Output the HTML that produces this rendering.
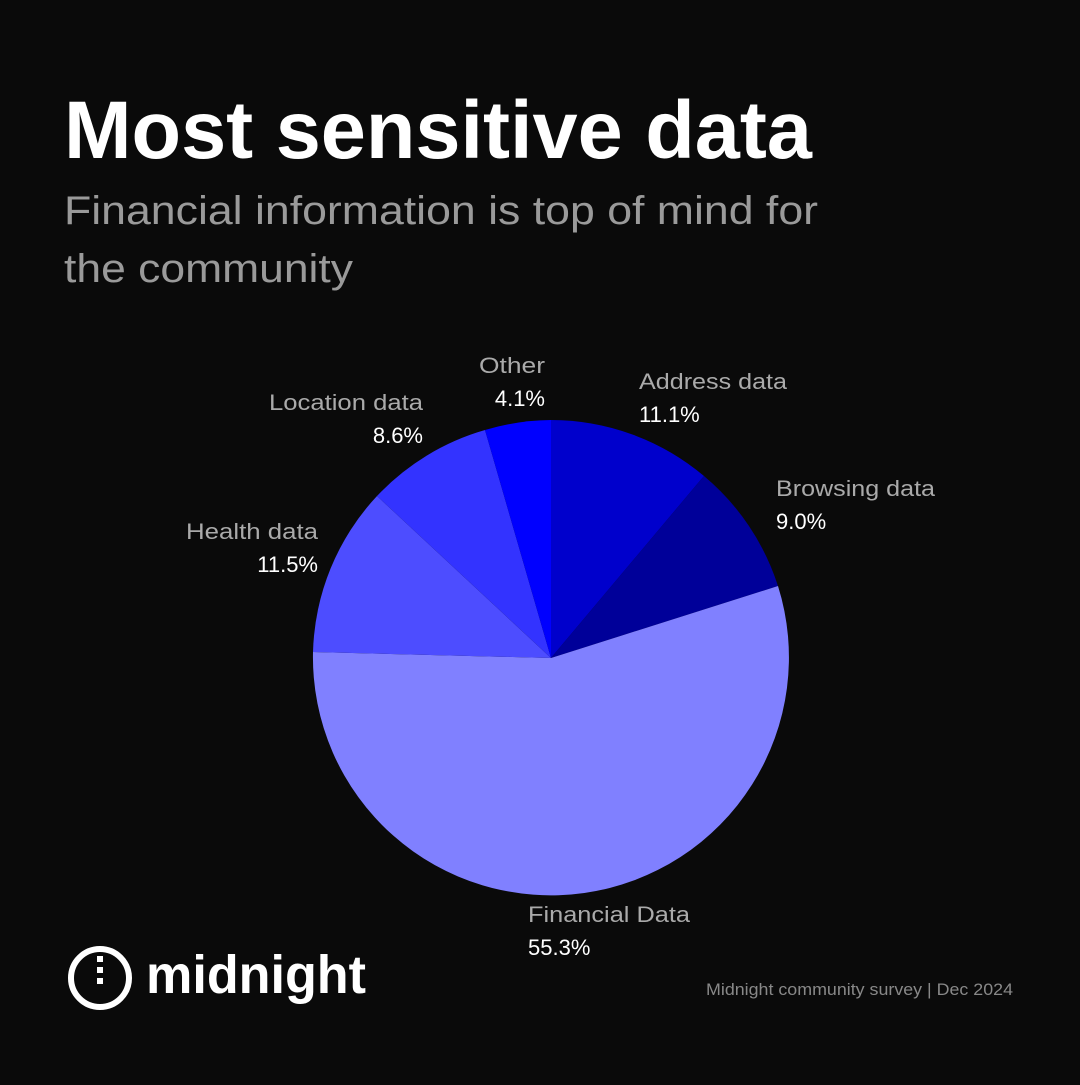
<!DOCTYPE html>
<html><head><meta charset="utf-8"><style>
body{margin:0;width:1080px;height:1080px;background:#0a0a0a;overflow:hidden;font-family:"Liberation Sans",sans-serif}
</style></head><body>
<svg width="1080" height="1080" xmlns="http://www.w3.org/2000/svg">
<rect width="1080" height="1080" fill="#0a0a0a"/>
<text x="64" y="158" fill="#fff" font-size="82" font-weight="bold" textLength="748" lengthAdjust="spacingAndGlyphs">Most sensitive data</text>
<text x="64" y="224" fill="#9a9a9a" font-size="40" textLength="754" lengthAdjust="spacingAndGlyphs">Financial information is top of mind for</text>
<text x="64" y="282" fill="#9a9a9a" font-size="40" textLength="289" lengthAdjust="spacingAndGlyphs">the community</text>
<g transform="translate(551,658)">
<path d="M0,0 L0,-238 A238,238 0 0 1 153,-182 Z" fill="#0000cc"/>
<path d="M0,0 L153,-182 A238,238 0 0 1 227,-72 Z" fill="#000099"/>
<path d="M0,0 L227,-72 A238,238 0 1 1 -238,-6 Z" fill="#8080ff"/>
<path d="M0,0 L-238,-6 A238,238 0 0 1 -174,-162 Z" fill="#4d4dff"/>
<path d="M0,0 L-174,-162 A238,238 0 0 1 -66,-228 Z" fill="#3333ff"/>
<path d="M0,0 L-66,-228 A238,238 0 0 1 0,-238 Z" fill="#0000ff"/>
</g>
<g font-size="22">
<text x="479" y="373" fill="#aaa" textLength="66" lengthAdjust="spacingAndGlyphs">Other</text>
<text x="545" y="406" fill="#fff" text-anchor="end">4.1%</text>
<text x="269" y="410" fill="#aaa" textLength="154" lengthAdjust="spacingAndGlyphs">Location data</text>
<text x="423" y="443" fill="#fff" text-anchor="end">8.6%</text>
<text x="186" y="539" fill="#aaa" textLength="132" lengthAdjust="spacingAndGlyphs">Health data</text>
<text x="318" y="572" fill="#fff" text-anchor="end">11.5%</text>
<text x="639" y="389" fill="#aaa" textLength="148" lengthAdjust="spacingAndGlyphs">Address data</text>
<text x="639" y="422" fill="#fff">11.1%</text>
<text x="776" y="496" fill="#aaa" textLength="159" lengthAdjust="spacingAndGlyphs">Browsing data</text>
<text x="776" y="529" fill="#fff">9.0%</text>
<text x="528" y="922" fill="#aaa" textLength="162" lengthAdjust="spacingAndGlyphs">Financial Data</text>
<text x="528" y="955" fill="#fff">55.3%</text>
</g>
<circle cx="100" cy="978" r="29" fill="none" stroke="#fff" stroke-width="6"/>
<rect x="97" y="956" width="6" height="6" fill="#fff"/>
<rect x="97" y="967" width="6" height="6" fill="#fff"/>
<rect x="97" y="978" width="6" height="6" fill="#fff"/>
<text x="146" y="993" fill="#fff" font-size="54" font-weight="bold" textLength="220" lengthAdjust="spacingAndGlyphs">midnight</text>
<text x="706" y="995" fill="#888" font-size="17" textLength="307" lengthAdjust="spacingAndGlyphs">Midnight community survey | Dec 2024</text>
</svg>
</body></html>
